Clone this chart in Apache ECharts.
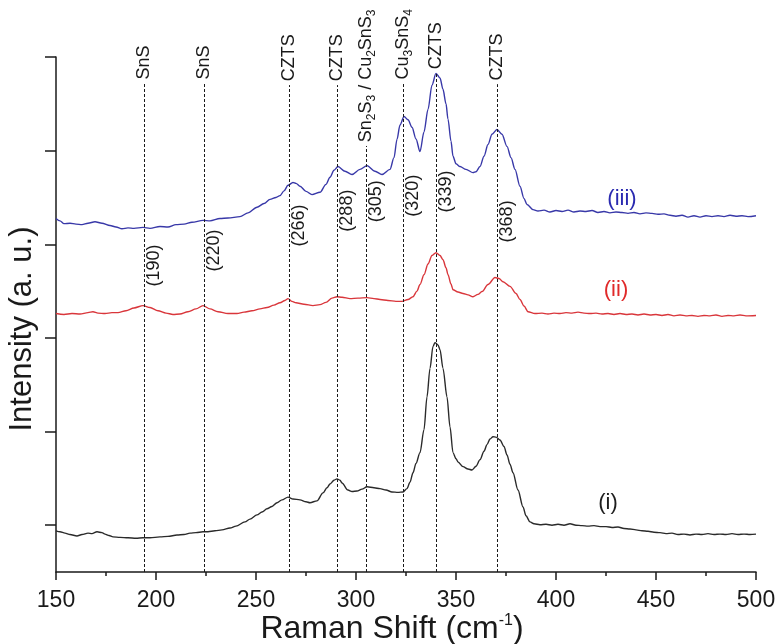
<!DOCTYPE html>
<html>
<head>
<meta charset="utf-8">
<script src="https://cdn.jsdelivr.net/npm/echarts@6/dist/echarts.min.js"></script>
<style>
  html, body { margin: 0; padding: 0; background: #fff; }
  #chart { width: 778px; height: 644px; }
</style>
</head>
<body>
<div id="chart"></div>
<script>
// spectra: [Raman shift (cm-1), intensity (a.u., stacked)]
var specI = [
  [150,0.88],[152,0.86],[154.5,0.83],[157,0.80],[160.5,0.77],[163,0.80],[166,0.83],[168,0.82],[170.5,0.86],[173,0.84],
  [174.5,0.81],[176.5,0.78],[178.5,0.75],[182,0.74],[186,0.73],[190,0.72],[193.5,0.73],[197,0.73],[202,0.75],[206,0.76],
  [210.5,0.79],[214,0.80],[217,0.83],[220,0.84],[223.5,0.86],[226,0.86],[229.5,0.88],[233,0.90],[237,0.94],[240,0.98],
  [244.5,1.07],[247,1.13],[250.5,1.22],[253,1.28],[255.5,1.35],[258,1.40],[260.5,1.48],[263,1.54],[266,1.60],[268.5,1.56],
  [272,1.54],[275,1.50],[277,1.48],[280.5,1.52],[283.5,1.69],[285.5,1.80],[287,1.88],[289,1.96],[290.5,1.99],[292,1.96],
  [293,1.90],[296,1.75],[298,1.72],[300.5,1.73],[303,1.77],[305.5,1.82],[309,1.80],[312,1.78],[315,1.75],[318,1.71],
  [321,1.70],[323.5,1.71],[325.5,1.78],[327,1.92],[328.5,2.12],[330,2.32],[332,2.55],[334,3.04],[335.5,3.74],[337,4.35],
  [338.5,4.82],[339.5,4.90],[341,4.85],[342,4.75],[343.5,4.35],[345.5,3.74],[347,3.10],[348.5,2.55],[350,2.42],[351,2.35],
  [353.5,2.25],[356,2.20],[358,2.18],[360,2.26],[362,2.40],[364,2.58],[365.5,2.72],[367,2.84],[368.5,2.89],[370,2.88],
  [372,2.82],[374,2.68],[375.5,2.50],[377,2.30],[378.5,2.12],[381,1.75],[383.5,1.39],[385,1.20],[387,1.07],[389,1.03],
  [392,1.01],[395,1.02],[398,1.00],[401,1.02],[404,1.00],[407,1.03],[410,1.00],[413,0.99],[416,0.98],[419,0.99],
  [422,0.97],[425,0.97],[428,0.95],[431,0.96],[434,0.93],[437,0.92],[440,0.90],[443,0.88],[446,0.87],[449,0.85],
  [452,0.84],[455,0.82],[458,0.83],[461,0.80],[464,0.81],[467,0.79],[470,0.81],[473,0.80],[476,0.82],[479,0.80],
  [482,0.81],[485,0.80],[488,0.82],[491,0.80],[494,0.81],[497,0.80],[500,0.81]
];
var specII = [
  [150,5.52],[154,5.50],[158,5.52],[162,5.51],[166,5.54],[168.5,5.56],[171,5.53],[174.5,5.52],[178,5.54],[181,5.54],
  [185,5.58],[189,5.64],[193.5,5.69],[197,5.65],[201,5.58],[205,5.53],[208.5,5.50],[212,5.51],[216,5.56],[220,5.62],
  [223.5,5.69],[227,5.62],[231,5.56],[236,5.52],[240.5,5.52],[244,5.55],[248,5.58],[252,5.62],[255.5,5.65],[259,5.70],
  [262,5.75],[264.5,5.80],[266,5.84],[268,5.78],[270,5.75],[274,5.72],[278.5,5.69],[282,5.71],[285,5.76],[288,5.85],
  [290.5,5.88],[293,5.87],[297,5.84],[301,5.85],[305.5,5.86],[309,5.84],[312,5.82],[316,5.80],[320,5.78],[323,5.78],
  [326,5.82],[328.5,5.88],[330.5,6.00],[332,6.14],[334,6.35],[336,6.58],[338,6.76],[340,6.82],[342,6.76],[343.5,6.67],
  [345,6.50],[346,6.35],[347.5,6.15],[348.5,6.03],[351,5.98],[353.5,5.95],[356,5.92],[358.5,5.88],[361,5.93],[363,5.99],
  [366,6.14],[369.5,6.29],[371.5,6.27],[373.5,6.20],[377,6.10],[380,5.95],[382,5.82],[384,5.68],[386,5.56],[389.5,5.52],
  [393,5.53],[396,5.51],[399,5.53],[402,5.52],[405,5.54],[408,5.53],[411,5.55],[414,5.53],[417,5.52],[420,5.53],
  [423,5.51],[426,5.52],[429,5.50],[432,5.52],[435,5.50],[438,5.51],[441,5.49],[444,5.51],[447,5.49],[450,5.50],
  [453,5.48],[456,5.50],[459,5.47],[462,5.49],[465,5.47],[468,5.48],[471,5.46],[474,5.48],[477,5.47],[480,5.49],
  [483,5.46],[486,5.48],[489,5.47],[492,5.49],[495,5.47],[500,5.48]
];
var specIII = [
  [150,7.55],[152,7.50],[154,7.44],[157,7.45],[160,7.43],[163,7.42],[166,7.45],[169.5,7.48],[173,7.45],[177,7.40],
  [180,7.37],[183,7.33],[186,7.35],[189,7.34],[193.5,7.36],[197,7.34],[202,7.38],[206,7.37],[210,7.42],[214,7.43],
  [218,7.47],[223.5,7.51],[227,7.50],[232,7.55],[236,7.56],[242,7.59],[246,7.67],[250.5,7.79],[254,7.87],[257,7.96],
  [260,8.00],[262,8.04],[264,8.14],[266,8.26],[268.5,8.32],[270,8.30],[272,8.24],[275,8.13],[278,8.06],[282,8.11],
  [285,8.28],[287,8.43],[289,8.58],[291,8.66],[294.5,8.56],[298,8.49],[302,8.60],[305.5,8.68],[309.5,8.56],[313,8.49],
  [317,8.60],[319,8.85],[320.5,9.24],[322,9.55],[324,9.73],[326,9.66],[328,9.50],[330,9.25],[332,8.98],[334,9.40],
  [336,9.88],[338,10.40],[340,10.65],[342,10.55],[343.5,10.31],[345,10.00],[346,9.67],[347.5,9.20],[348.5,8.88],[350,8.72],
  [352,8.66],[355,8.60],[358.5,8.53],[360,8.55],[362,8.66],[364,8.88],[366,9.13],[368,9.35],[370.5,9.45],[373,9.35],
  [375.5,9.09],[377.5,8.85],[379.5,8.60],[382,8.24],[384,7.98],[385.5,7.85],[388.5,7.74],[391,7.71],[394,7.73],[397,7.69],
  [400,7.72],[403,7.70],[406,7.73],[409,7.69],[412,7.71],[415,7.70],[418,7.72],[421,7.68],[424,7.70],[427,7.67],
  [430,7.69],[433,7.68],[436,7.66],[439,7.68],[442,7.65],[445,7.67],[448,7.66],[451,7.64],[454,7.65],[457,7.62],
  [460,7.60],[463,7.62],[466,7.58],[469,7.61],[472,7.58],[475,7.61],[478,7.59],[481,7.61],[484,7.59],[487,7.62],
  [490,7.60],[493,7.61],[496,7.59],[500,7.61]
];

// assigned peaks
var peakShift = [194, 224, 266.5, 290.5, 305, 323.5, 340, 370.5];
var peakPhase = ['SnS', 'SnS', 'CZTS', 'CZTS', 'Sn{s|2}S{s|3} / Cu{s|2}SnS{s|3}', 'Cu{s|3}SnS{s|4}', 'CZTS', 'CZTS'];
var peakRef = ['(190)', '(220)', '(266)', '(288)', '(305)', '(320)', '(339)', '(368)'];
var curveTags = ['(i)', '(ii)', '(iii)'];

// where the texts sit (y units)
var phaseY = [10.52, 10.52, 10.48, 10.48, 9.18, 10.52, 10.74, 10.50];
var refY = [6.10, 6.42, 6.95, 7.27, 7.47, 7.59, 7.68, 7.04];
var tagPos = [[426, 1.48], [430, 6.03], [433, 7.96]];
var colors = ['#2a2a2a', '#d9363b', '#3838a8'];
var tagColors = ['#1e1e1e', '#e02a2a', '#2a2ab0'];

var FONT = "'Liberation Sans', Arial, sans-serif";
var ink = '#1a1a1a';

var myChart = echarts.init(document.getElementById('chart'));

function spectrum(data, color, extra) {
  var s = {
    type: 'line',
    data: data,
    showSymbol: false,
    symbol: 'none',
    smooth: 0.3,
    smoothMonotone: 'x',
    silent: true,
    lineStyle: { color: color, width: 1.4 },
    z: 3
  };
  return Object.assign(s, extra || {});
}

// invisible points that only carry a text
function textSeries(data, label) {
  return {
    type: 'scatter',
    silent: true,
    symbolSize: 1,
    itemStyle: { color: 'transparent', opacity: 1 },
    z: 5,
    data: data,
    label: Object.assign({ show: true, position: 'inside', formatter: '{b}', fontFamily: FONT, color: ink }, label)
  };
}

var dropLines = peakShift.map(function (x, i) {
  return [{ coord: [x, 0] }, { coord: [x, phaseY[i] - 0.08] }];
});

var option = {
  backgroundColor: '#fff',
  animation: false,
  textStyle: { fontFamily: FONT },
  grid: { left: 56, right: 22, top: 57, bottom: 72, outerBoundsMode: 'none', containLabel: false },
  xAxis: {
    type: 'value',
    min: 150,
    max: 500,
    interval: 50,
    name: 'Raman Shift (cm{sup|-1})',
    nameLocation: 'middle',
    nameGap: 41,
    nameMoveOverlap: false,
    nameTextStyle: {
      fontSize: 32, color: ink, fontFamily: FONT, padding: [0, 28, 0, 0],
      rich: { sup: { fontSize: 16, lineHeight: 16, verticalAlign: 'top', color: ink, fontFamily: FONT } }
    },
    axisLine: { show: true, lineStyle: { color: ink, width: 1.5 } },
    axisTick: { show: true, inside: false, length: 8, lineStyle: { color: ink, width: 1.5 } },
    minorTick: { show: true, splitNumber: 2, length: 4, lineStyle: { color: ink, width: 1.5 } },
    axisLabel: { fontSize: 23, color: ink, margin: 17, fontFamily: FONT },
    splitLine: { show: false },
    minorSplitLine: { show: false }
  },
  yAxis: {
    type: 'value',
    min: 0,
    max: 11,
    name: 'Intensity (a. u.)',
    nameLocation: 'middle',
    nameGap: 18,
    nameMoveOverlap: false,
    nameTextStyle: { fontSize: 31, color: ink, fontFamily: FONT, padding: [0, 29, 0, 0] },
    axisLine: { show: true, onZero: false, lineStyle: { color: ink, width: 1.5 } },
    axisTick: { show: true, inside: false, length: 11, customValues: [1, 3, 5, 7, 9, 11], lineStyle: { color: ink, width: 1.5 } },
    axisLabel: { show: false },
    splitLine: { show: false }
  },
  series: [
    spectrum(specI, colors[0], {
      markLine: {
        silent: true,
        symbol: ['none', 'none'],
        label: { show: false },
        lineStyle: { color: ink, width: 1, type: [3, 2] },
        emphasis: { disabled: true },
        data: dropLines
      }
    }),
    spectrum(specII, colors[1]),
    spectrum(specIII, colors[2]),
    textSeries(
      peakPhase.map(function (t, i) { return { value: [peakShift[i], phaseY[i]], name: t }; }),
      {
        rotate: 90, align: 'left', verticalAlign: 'middle', fontSize: 18, lineHeight: 23,
        rich: { s: { fontSize: 12, lineHeight: 12, verticalAlign: 'bottom', color: ink, fontFamily: FONT } }
      }
    ),
    textSeries(
      peakRef.map(function (t, i) { return { value: [peakShift[i], refY[i]], name: t }; }),
      { rotate: 90, align: 'left', verticalAlign: 'top', fontSize: 18, lineHeight: 20 }
    ),
    textSeries(
      curveTags.map(function (t, i) { return { value: tagPos[i], name: t, label: { color: tagColors[i] } }; }),
      { align: 'center', verticalAlign: 'middle', fontSize: 22 }
    )
  ]
};
myChart.setOption(option);
</script>
</body>
</html>
